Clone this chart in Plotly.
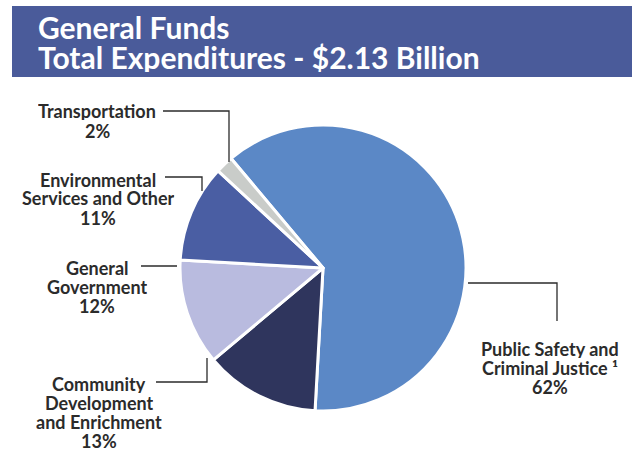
import plotly.graph_objects as go

# General Fund expenditure shares (percent)
categories = [
    "Public Safety and Criminal Justice",
    "Community Development and Enrichment",
    "General Government",
    "Environmental Services and Other",
    "Transportation",
]
shares = [62, 13, 12, 11, 2]
label_lines = [
    ["Public Safety and", "Criminal Justice ¹"],
    ["Community", "Development", "and Enrichment"],
    ["General", "Government"],
    ["Environmental", "Services and Other"],
    ["Transportation"],
]
title_lines = ["General Funds", "Total Expenditures - $2.13 Billion"]
slice_colors = ["#5b88c6", "#2f355d", "#b9bbdf", "#4a5ea3", "#c9ccc9"]

W, H = 633, 451
cx, cy, r = 323, 268, 143


def px(x):
    return x / W


def py(y):
    return 1 - y / H


fig = go.Figure(
    go.Pie(
        labels=categories,
        values=shares,
        sort=False,
        direction="clockwise",
        rotation=-40,
        marker=dict(colors=slice_colors, line=dict(color="white", width=3)),
        textinfo="none",
        hoverinfo="label+percent",
        showlegend=False,
        domain=dict(x=[px(cx - r), px(cx + r)], y=[py(cy + r), py(cy - r)]),
    )
)

# Label blocks: (index, center x, first line center y); lines 19 px apart
label_pos = {
    0: (550, 347),
    1: (99, 382),
    2: (97, 266),
    3: (98, 178),
    4: (97, 110),
}
line_step = 19
annotations = []
for i, (x0, y0) in label_pos.items():
    lines = label_lines[i] + [f"{shares[i]}%"]
    for k, line in enumerate(lines):
        annotations.append(
            dict(
                x=px(x0), y=py(y0 + k * line_step + 1), xref="paper", yref="paper",
                text=line, showarrow=False, xanchor="center", yanchor="middle",
                height=line_step, borderpad=0,
                font=dict(family="Lato", size=18, color="#2b2b2b", weight="bold"),
            )
        )

# Banner title, one annotation per line
for k, line in enumerate(title_lines):
    annotations.append(
        dict(
            x=px(37), y=py(27 + k * 30), xref="paper", yref="paper",
            text=line, showarrow=False, xanchor="left", yanchor="middle",
            height=30, borderpad=0,
            font=dict(family="Lato", size=30, color="white", weight="bold"),
        )
    )

# Leader lines (paper pixel paths)
leaders = [
    [(163, 111), (229, 111), (229, 162)],
    [(165, 177), (202, 177), (202, 191)],
    [(141, 266), (177, 266)],
    [(156, 382), (207, 382), (207, 358)],
    [(468, 283), (557, 283), (557, 321)],
]
shapes = [
    dict(type="rect", xref="paper", yref="paper",
         x0=px(12), x1=px(632), y0=py(77), y1=py(6),
         fillcolor="#4a5b9a", line=dict(width=0), layer="below"),
]
for pts in leaders:
    path = "M " + " L ".join(f"{px(x)},{py(y)}" for x, y in pts)
    shapes.append(dict(type="path", xref="paper", yref="paper", path=path,
                       line=dict(color="#2b2b2b", width=1.3)))

fig.update_layout(
    width=W, height=H,
    margin=dict(l=0, r=0, t=0, b=0),
    paper_bgcolor="white", plot_bgcolor="white",
    annotations=annotations, shapes=shapes,
)

fig.write_html("out.html")
